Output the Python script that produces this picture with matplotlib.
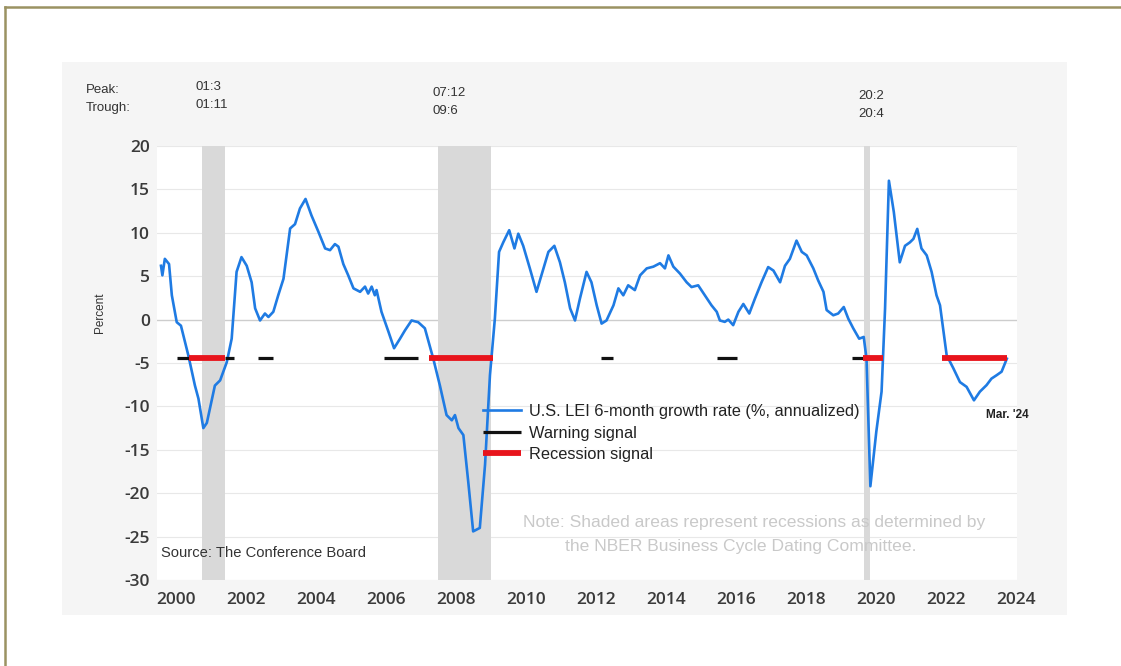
import numpy as np
import matplotlib
matplotlib.use("Agg")
import matplotlib.pyplot as plt
from matplotlib.lines import Line2D
from matplotlib.patches import Rectangle

# U.S. LEI, 6-month growth rate (% annualized), read month by month
lei_t = [2000.00, 2000.04, 2000.11, 2000.23, 2000.31, 2000.45, 2000.57, 2000.78, 2000.97, 2001.07,
         2001.21, 2001.31, 2001.54, 2001.69, 2001.88, 2002.02, 2002.16, 2002.30, 2002.45, 2002.59,
         2002.69, 2002.83, 2002.97, 2003.07, 2003.21, 2003.35, 2003.50, 2003.69, 2003.83, 2003.97,
         2004.13, 2004.30, 2004.50, 2004.69, 2004.83, 2004.97, 2005.07, 2005.21, 2005.35, 2005.50,
         2005.69, 2005.83, 2005.92, 2006.02, 2006.11, 2006.16, 2006.30, 2006.50, 2006.66, 2006.83,
         2006.97, 2007.16, 2007.35, 2007.54, 2007.78, 2007.97, 2008.16, 2008.31, 2008.40, 2008.50,
         2008.64, 2008.78, 2008.92, 2009.11, 2009.26, 2009.40, 2009.54, 2009.66, 2009.78, 2009.95,
         2010.10, 2010.21, 2010.35, 2010.54, 2010.73, 2010.87, 2011.07, 2011.24, 2011.40, 2011.54,
         2011.69, 2011.83, 2011.97, 2012.16, 2012.30, 2012.45, 2012.59, 2012.73, 2012.93, 2013.07,
         2013.21, 2013.35, 2013.54, 2013.69, 2013.88, 2014.07, 2014.26, 2014.40, 2014.50, 2014.64,
         2014.83, 2015.02, 2015.16, 2015.35, 2015.54, 2015.73, 2015.88, 2015.97, 2016.11, 2016.21,
         2016.35, 2016.50, 2016.64, 2016.81, 2016.97, 2017.16, 2017.35, 2017.50, 2017.69, 2017.83,
         2017.97, 2018.16, 2018.31, 2018.45, 2018.64, 2018.78, 2018.93, 2019.02, 2019.21, 2019.35,
         2019.51, 2019.64, 2019.78, 2019.95, 2020.08, 2020.16, 2020.27, 2020.44, 2020.59, 2020.69,
         2020.80, 2020.94, 2021.11, 2021.26, 2021.40, 2021.50, 2021.61, 2021.73, 2021.88, 2022.02,
         2022.16, 2022.26, 2022.45, 2022.64, 2022.83, 2023.02, 2023.23, 2023.40, 2023.59, 2023.73,
         2023.88, 2024.02, 2024.17]
lei_v = [6.2, 5.1, 7.0, 6.4, 2.8, -0.3, -0.7, -4.1, -7.6, -9.1,
         -12.5, -11.9, -7.6, -7.0, -4.9, -2.2, 5.5, 7.2, 6.2, 4.3,
         1.3, -0.1, 0.7, 0.3, 0.9, 2.8, 4.7, 10.5, 11.0, 12.8,
         13.9, 12.0, 10.1, 8.2, 8.0, 8.7, 8.4, 6.4, 5.1, 3.6,
         3.2, 3.8, 3.0, 3.8, 2.8, 3.4, 0.9, -1.4, -3.3, -2.2,
         -1.25, -0.1, -0.3, -1.0, -4.5, -7.6, -11.0, -11.6, -11.0, -12.5,
         -13.3, -18.7, -24.4, -24.0, -16.7, -6.4, 0.1, 7.8, 8.9, 10.3,
         8.2, 9.9, 8.5, 5.9, 3.2, 5.1, 7.8, 8.5, 6.6, 4.3,
         1.3, -0.1, 2.4, 5.5, 4.3, 1.65, -0.46, -0.1, 1.65, 3.6,
         2.8, 3.95, 3.4, 5.1, 5.9, 6.1, 6.5, 5.9, 7.4, 6.1,
         5.3, 4.3, 3.75, 3.95, 2.8, 1.65, 0.9, -0.1, -0.26, 0.0,
         -0.64, 0.9, 1.8, 0.7, 2.4, 4.3, 6.05, 5.65, 4.3, 6.2,
         7.0, 9.1, 7.8, 7.4, 5.9, 4.5, 3.2, 1.1, 0.5, 0.7,
         1.45, 0.1, -1.0, -2.2, -2.0, -4.5, -19.2, -12.9, -8.3, 1.3,
         16.0, 12.4, 6.6, 8.5, 8.9, 9.3, 10.45, 8.2, 7.4, 5.5,
         2.8, 1.65, -4.1, -5.6, -7.2, -7.75, -9.3, -8.3, -7.55, -6.8,
         -6.4, -6.0, -4.5]

# NBER recessions (peak / trough)
rec_start = [2001 + 2 / 12, 2007 + 11 / 12, 2020 + 1 / 12]
rec_end = [2001 + 10 / 12, 2009 + 5 / 12, 2020 + 3 / 12]
rec_peak = ["01:3", "07:12", "20:2"]
rec_trough = ["01:11", "09:6", "20:4"]

# signal bars drawn at the threshold level
signal_level = -4.4
warn_start = [2000.46, 2001.83, 2002.78, 2006.37, 2012.56, 2015.90, 2019.75]
warn_end = [2000.80, 2002.10, 2003.20, 2007.34, 2012.93, 2016.47, 2020.07]
recsig_start = [2000.80, 2007.66, 2020.07, 2022.33]
recsig_end = [2001.83, 2009.49, 2020.64, 2024.18]

y_ticks = [20, 15, 10, 5, 0, -5, -10, -15, -20, -25, -30]
x_years = [2000, 2002, 2004, 2006, 2008, 2010, 2012, 2014, 2016, 2018, 2020, 2022, 2024]

W, H = 1121, 666


def fx(px):
    return px / W


def fy(py):
    return 1 - py / H


plt.rcParams['font.family'] = ['Liberation Sans', 'DejaVu Sans']

fig = plt.figure(figsize=(W / 100, H / 100), dpi=100, facecolor='white')

# frame and light panel behind the chart
fig.add_artist(Line2D([fx(5), fx(1121)], [fy(7), fy(7)], color='#9b9262', lw=1.8))
fig.add_artist(Line2D([fx(5), fx(5)], [fy(7), fy(666)], color='#9b9262', lw=1.8))
fig.add_artist(Rectangle((fx(62), fy(615)), fx(1067) - fx(62), fy(62) - fy(615),
                         facecolor='#f5f5f5', edgecolor='none', zorder=0))

ax = fig.add_axes([fx(157), fy(580), fx(1017) - fx(157), fy(146) - fy(580)])
ax.set_facecolor('white')
ax.set_xlim(1999.886, 2024.46)
ax.set_ylim(-30, 20)

for v in y_ticks:
    ax.axhline(v, color='#cdcdcd' if v == 0 else '#e8e8e8', lw=1.0 if v == 0 else 0.8, zorder=1)

for s, e in zip(rec_start, rec_end):
    ax.axvspan(s, e, color='#d9d9d9', lw=0, zorder=4)

ax.plot(lei_t, lei_v, color='#1f7be3', lw=1.9, zorder=5, solid_joinstyle='round',
        label='U.S. LEI 6-month growth rate (%, annualized)')
ax.hlines([signal_level] * len(warn_start), warn_start, warn_end, color='#111111', lw=2.3,
          zorder=6, label='Warning signal')
ax.hlines([signal_level] * len(recsig_start), recsig_start, recsig_end, color='#e8141c', lw=4.2,
          zorder=7, label='Recession signal')

ax.set_yticks(y_ticks)
ax.set_yticklabels([str(v) for v in y_ticks])
ax.set_xticks([y + 0.43 for y in x_years])
ax.set_xticklabels([str(y) for y in x_years])
ax.tick_params(length=0, labelsize=12.5, labelcolor='#3a3a3a')
ax.tick_params(axis='y', pad=5)
ax.tick_params(axis='x', pad=9)
for lab in ax.get_xticklabels() + ax.get_yticklabels():
    lab.set_family(['Open Sans', 'DejaVu Sans'])
    lab.set_fontweight('semibold')
for sp in ax.spines.values():
    sp.set_visible(False)

fig.text(fx(100), fy(313), 'Percent', rotation=90, ha='center', va='center', fontsize=8.5,
         color='#333333')

# peak / trough dates above each shaded band
fig.text(fx(86), fy(90), 'Peak:', fontsize=9.5, color='#333333', va='center')
fig.text(fx(86), fy(108), 'Trough:', fontsize=9.5, color='#333333', va='center')
peak_y = [87, 93, 96]
for s, pk, tr, py in zip(rec_start, rec_peak, rec_trough, peak_y):
    px = ax.transData.transform((s, 0))[0]
    fig.text(fx(px - 6), fy(py), pk, fontsize=9.5, color='#333333', va='center')
    fig.text(fx(px - 6), fy(py + 18), tr, fontsize=9.5, color='#333333', va='center')

fig.legend(loc='upper left', bbox_to_anchor=(fx(483), fy(404)), frameon=False, fontsize=11.8,
           borderpad=0, borderaxespad=0, handlelength=2.3, handletextpad=0.48,
           labelspacing=0.40, labelcolor='#222222')

ax.text(lei_t[-1], -11.0, "Mar. '24", ha='center', va='center', fontsize=8.5,
        fontweight='bold', color='#222222', zorder=8)

fig.text(fx(754), fy(523), 'Note: Shaded areas represent recessions as determined by',
         ha='center', va='center', fontsize=12.6, color='#c9c9c9', zorder=2)
fig.text(fx(741), fy(546), 'the NBER Business Cycle Dating Committee.',
         ha='center', va='center', fontsize=12.6, color='#c9c9c9', zorder=2)
fig.text(fx(161), fy(553), 'Source: The Conference Board', ha='left', va='center',
         fontsize=10.6, color='#333333')

fig.savefig('out.png', dpi=100, facecolor='white')
